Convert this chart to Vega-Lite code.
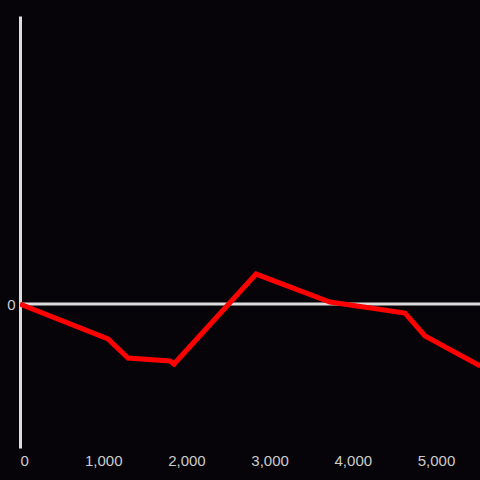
{
  "$schema": "https://vega.github.io/schema/vega-lite/v6.json",
  "width": 460,
  "height": 432,
  "autosize": {"type": "none"},
  "padding": {"left": 20, "top": 16, "right": 0, "bottom": 32},
  "background": "#060408",
  "config": {"view": {"stroke": null}, "font": "Liberation Sans"},
  "datasets": {
    "series": [
      {"x": 0, "y": 0},
      {"x": 1058, "y": -0.243},
      {"x": 1298, "y": -0.375},
      {"x": 1803, "y": -0.396},
      {"x": 1851, "y": -0.417},
      {"x": 2837, "y": 0.208},
      {"x": 3726, "y": 0.014},
      {"x": 4627, "y": -0.0625},
      {"x": 4868, "y": -0.222},
      {"x": 5529, "y": -0.43}
    ],
    "zero": [{"y": 0}]
  },
  "layer": [
    {
      "data": {"name": "zero"},
      "mark": {"type": "rule", "color": "#dddddd", "strokeWidth": 3},
      "encoding": {
        "y": {"field": "y", "type": "quantitative", "scale": {"domain": [-1, 2]},
          "axis": {"values": [0], "format": "d", "ticks": false, "domainColor": "#dddddd", "domainWidth": 3, "labelColor": "#cccccc", "labelFontSize": 15, "labelPadding": 5, "grid": false, "title": null}}
      }
    },
    {
      "data": {"name": "series"},
      "mark": {"type": "line", "color": "#ff0000", "strokeWidth": 5, "clip": true},
      "encoding": {
        "x": {"field": "x", "type": "quantitative", "scale": {"domain": [0, 5529], "nice": false},
          "axis": {"values": [0, 1000, 2000, 3000, 4000, 5000], "domain": false, "ticks": false, "grid": false, "labelColor": "#cccccc", "labelFontSize": 15, "labelPadding": 5, "labelFlush": true, "title": null, "format": ",.0f"}},
        "y": {"field": "y", "type": "quantitative", "scale": {"domain": [-1, 2]}}
      }
    }
  ]
}
